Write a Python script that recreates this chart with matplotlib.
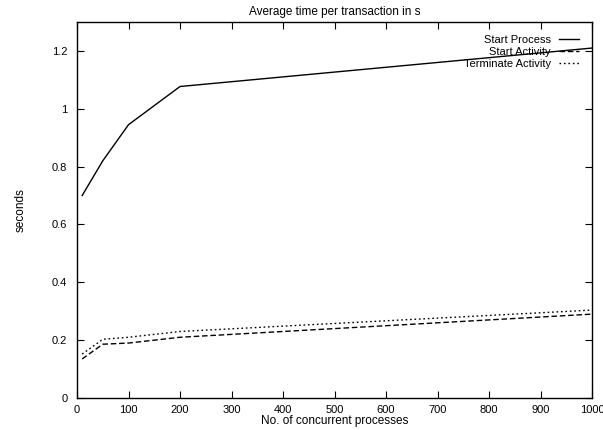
import matplotlib
matplotlib.use("Agg")
import matplotlib.pyplot as plt

plt.rcParams['font.family'] = ['Liberation Sans', 'DejaVu Sans']

procs = [10, 50, 100, 200, 1000]
start_process = [0.70, 0.82, 0.945, 1.077, 1.21]
start_activity = [0.135, 0.186, 0.19, 0.21, 0.29]
terminate_activity = [0.152, 0.203, 0.21, 0.23, 0.304]

fig = plt.figure(figsize=(6.03, 4.30), dpi=100)
ax = fig.add_axes([0.1277, 0.0744, 0.8541, 0.8744])

ax.plot(procs, start_process, color='black', lw=1.0, label='Start Process')
ax.plot(procs, start_activity, color='black', lw=1.0, ls=(0, (4, 2)), label='Start Activity')
ax.plot(procs, terminate_activity, color='black', lw=1.0, ls=(0, (1.2, 2)), label='Terminate Activity')

ax.set_xlim(0, 1000)
ax.set_ylim(0, 1.3)
ax.set_xticks(range(0, 1001, 100))
ax.set_yticks([0, 0.2, 0.4, 0.6, 0.8, 1.0, 1.2])
ax.set_yticklabels(['0', '0.2', '0.4', '0.6', '0.8', '1', '1.2'])
ax.tick_params(direction='in', top=True, right=True, labelsize=8, length=5, width=0.8)
ax.tick_params(axis='y', pad=7)
ax.tick_params(axis='x', pad=5)
for s in ax.spines.values():
    s.set_linewidth(1.0)

ax.set_title('Average time per transaction in s', fontsize=8.5, pad=5)
ax.set_xlabel('No. of concurrent processes', fontsize=8.5, labelpad=0)
ax.set_ylabel('seconds', fontsize=8.5, labelpad=18)

leg = ax.legend(loc='upper right', frameon=False, markerfirst=False, fontsize=8,
                handlelength=1.8, labelspacing=0.15, borderaxespad=0.8, handletextpad=0.7)

fig.savefig('out.png', dpi=100)
